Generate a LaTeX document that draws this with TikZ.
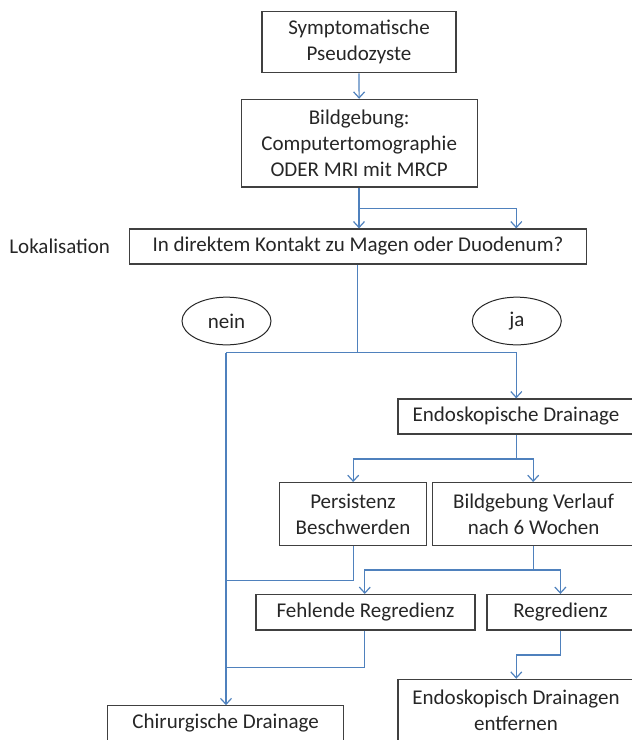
\documentclass[tikz,border=0pt]{standalone}
\usepackage{fontspec}
\setmainfont{Carlito}
\usepackage{tikz}
\usetikzlibrary{arrows.meta, shapes.geometric}
\definecolor{flow}{RGB}{79, 129, 189}
\definecolor{frame}{RGB}{64, 64, 64}
\definecolor{ink}{RGB}{38, 38, 38}

\begin{document}
\begin{tikzpicture}[x=1pt, y=-1pt,
  box/.style={draw=frame, line width=1.2, text=ink, align=center, inner sep=0,
    font=\fontsize{21}{26}\selectfont},
  oval/.style={ellipse, draw=black!85, line width=1, text=ink, inner sep=0,
    font=\fontsize{21}{26}\selectfont},
  conn/.style={draw=flow, line width=1.2},
  arr/.style={conn, -{Straight Barb[length=6pt, width=11pt]}}]
  \useasboundingbox (0, 0) rectangle (632, 740);
  \clip (0, 0) rectangle (632, 740);

  % boxes
  \node[box, minimum width=194, minimum height=61] (pseudo) at (359, 42.2) {Symptomatische\\Pseudozyste};
  \node[box, minimum width=236, minimum height=87.7] (bild) at (359.2, 143.2) {Bildgebung:\\Computertomographie\\ODER MRI mit MRCP};
  \node[box, minimum width=457, minimum height=35] (frage) at (357.9, 246.5) {In direktem Kontakt zu Magen oder Duodenum?};
  \node[font=\fontsize{21}{26}\selectfont, text=ink, inner sep=0] (lokal) at (59.7, 246.5) {Lokalisation};
  \node[oval, minimum width=89, minimum height=47.7] (nein) at (226.5, 321) {nein};
  \node[oval, minimum width=89, minimum height=47.7] (ja) at (516.8, 321) {ja};
  \node[box, minimum width=236, minimum height=35] (endo) at (516, 416.5) {Endoskopische Drainage};
  \node[box, minimum width=147.5, minimum height=62.7] (persist) at (353, 514) {Persistenz\\Beschwerden};
  \node[box, minimum width=203, minimum height=62.7] (verlauf) at (533.6, 514) {Bildgebung Verlauf\\nach 6 Wochen};
  \node[box, minimum width=219, minimum height=35.5] (fehlend) at (365.5, 612.3) {Fehlende Regredienz};
  \node[box, minimum width=147, minimum height=35.5] (regred) at (560.5, 612.3) {Regredienz};
  \node[box, minimum width=236, minimum height=35] (chir) at (225.6, 723.3) {Chirurgische Drainage};
  \node[box, minimum width=236, minimum height=62.7] (entf) at (516, 710.7) {Endoskopisch Drainagen\\entfernen};

  % junctions
  \coordinate (j1) at (359, 208.3);
  \coordinate (j1r) at (516.3, 208.3);
  \coordinate (j2) at (357.6, 352.7);
  \coordinate (j2l) at (226, 352.7);
  \coordinate (j2r) at (516.3, 352.7);
  \coordinate (j3) at (516.3, 459);
  \coordinate (j3l) at (353.2, 459);
  \coordinate (j3r) at (533.2, 459);
  \coordinate (j4) at (353.2, 580.3);
  \coordinate (j5) at (533.2, 570);
  \coordinate (j5l) at (364.8, 570);
  \coordinate (j5r) at (560.4, 570);
  \coordinate (j6) at (364.8, 667.7);
  \coordinate (j7) at (560.4, 655);
  \coordinate (j7l) at (516.3, 655);

  % connectors
  \draw[arr] (pseudo) -- (bild);
  \draw[conn] (bild.south -| j1) -- (j1);
  \draw[arr] (j1) -- (j1 |- frage.north);
  \draw[arr] (j1) -- (j1r) -- (j1r |- frage.north);
  \draw[conn] (frage.south -| j2) -- (j2);
  \draw[arr] (j2l) -- (j2r) -- (j2r |- endo.north);
  \draw[arr] (j2l) -- (j2l |- chir.north);
  \draw[conn] (endo.south -| j3) -- (j3);
  \draw[arr] (j3) -- (j3l) -- (j3l |- persist.north);
  \draw[arr] (j3) -- (j3r) -- (j3r |- verlauf.north);
  \draw[conn] (persist.south -| j4) -- (j4) -- (j4 -| j2l);
  \draw[conn] (verlauf.south -| j5) -- (j5);
  \draw[arr] (j5) -- (j5l) -- (j5l |- fehlend.north);
  \draw[arr] (j5) -- (j5r) -- (j5r |- regred.north);
  \draw[conn] (fehlend.south -| j6) -- (j6) -- (j6 -| j2l);
  \draw[arr] (regred.south -| j7) -- (j7) -- (j7l) -- (j7l |- entf.north);
\end{tikzpicture}
\end{document}
